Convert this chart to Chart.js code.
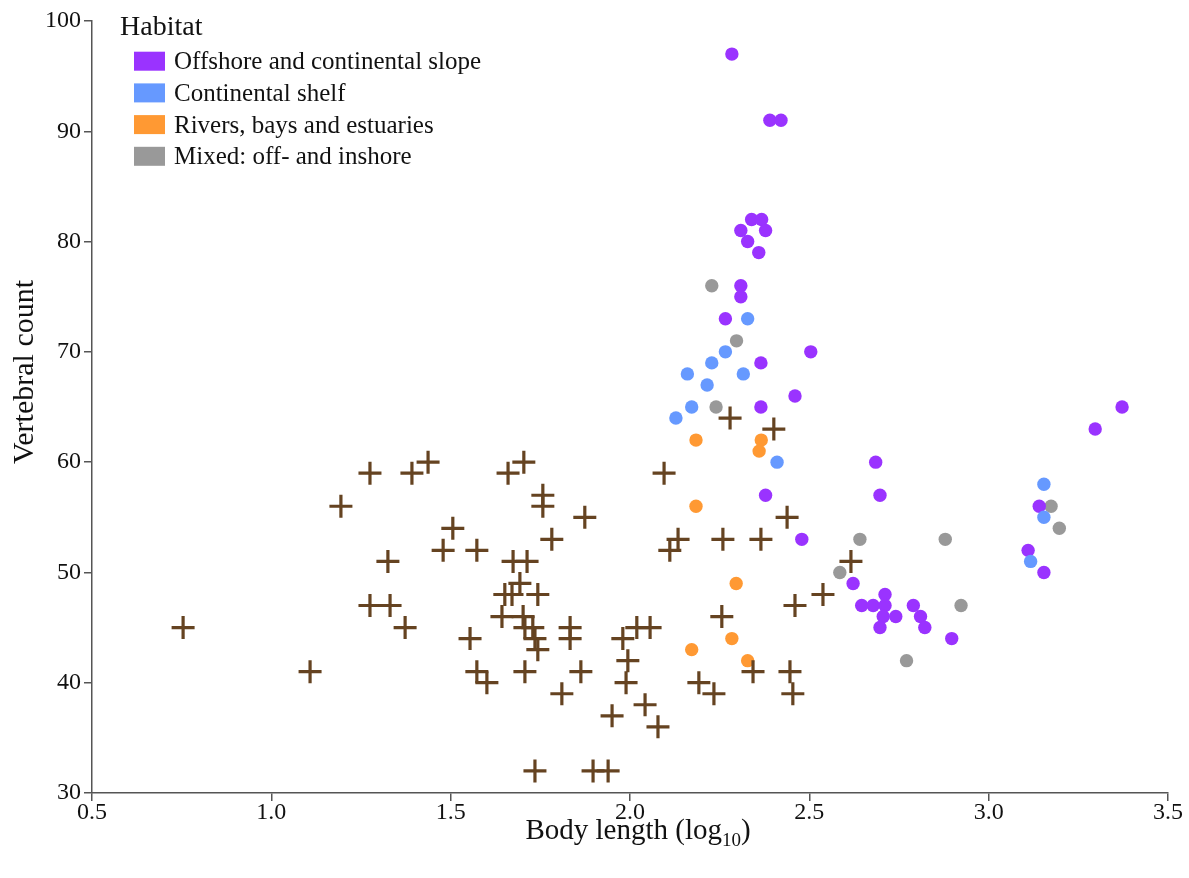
<!DOCTYPE html>
<html>
<head>
<meta charset="utf-8">
<script src="https://cdn.jsdelivr.net/npm/chart.js@4.4.1/dist/chart.umd.min.js"></script>
<style>
  html, body { margin: 0; padding: 0; background: #ffffff; }
  canvas { display: block; }
</style>
</head>
<body>
<canvas id="chart" width="1189" height="878"></canvas>
<script>
// Body length (log10) and vertebral count, by habitat
const offshoreLen = [2.284, 2.390, 2.421, 2.339, 2.367, 2.309, 2.378, 2.328, 2.359, 2.309, 2.309, 2.266,
  2.504, 2.365, 2.460, 2.365, 2.685, 2.378, 2.697, 2.479, 2.622, 2.711, 2.646, 2.678, 2.711, 2.790,
  2.741, 2.706, 2.810, 2.697, 2.822, 2.897, 3.372, 3.297, 3.141, 3.110, 3.154];
const offshoreVert = [97, 91, 91, 82, 82, 81, 81, 80, 79, 76, 75, 73,
  70, 69, 66, 65, 60, 57, 57, 53, 49, 48, 47, 47, 47, 47,
  46, 46, 46, 45, 45, 44, 65, 63, 56, 52, 50];

const shelfLen = [2.128, 2.172, 2.160, 2.215, 2.228, 2.266, 2.328, 2.316, 2.410, 3.154, 3.154, 3.117];
const shelfVert = [64, 65, 68, 67, 69, 70, 73, 68, 60, 58, 55, 51];

const riversLen = [2.184, 2.366, 2.360, 2.184, 2.296, 2.284, 2.172, 2.328];
const riversVert = [62, 62, 61, 56, 49, 44, 43, 42];

const mixedLen = [2.228, 2.297, 2.240, 2.641, 2.879, 2.585, 2.923, 2.771, 3.174, 3.197];
const mixedVert = [76, 71, 65, 53, 53, 50, 47, 42, 56, 54];

// Taxa without a habitat class (drawn as crosses)
const otherLen = [0.754, 1.108, 1.194, 1.275, 1.275, 1.331, 1.325, 1.373, 1.392, 1.437, 1.479, 1.506,
  1.554, 1.573, 1.573, 1.601, 1.643, 1.651, 1.660, 1.671, 1.674, 1.693, 1.702, 1.704, 1.707, 1.713,
  1.729, 1.735, 1.735, 1.743, 1.743, 1.757, 1.757, 1.782, 1.810, 1.833, 1.833, 1.707, 1.863, 1.874,
  1.897, 1.939, 1.950, 1.980, 1.989, 1.994, 2.019, 2.042, 2.056, 2.078, 2.095, 2.111, 2.134, 2.192,
  2.234, 2.256, 2.259, 2.279, 2.343, 2.365, 2.401, 2.438, 2.446, 2.454, 2.460, 2.538, 2.616];
const otherVert = [45, 41, 56, 59, 47, 47, 51, 45, 59, 60, 52, 54,
  44, 52, 41, 40, 46, 48, 59, 48, 51, 49, 46, 60, 45, 51,
  45, 44, 32, 48, 43, 57, 56, 53, 39, 45, 44, 41, 41, 55,
  32, 32, 37, 44, 40, 42, 45, 38, 45, 36, 59, 52, 53, 40,
  39, 46, 53, 64, 41, 53, 63, 55, 41, 39, 47, 48, 51];

const habitatNames = ['Offshore and continental slope', 'Continental shelf',
  'Rivers, bays and estuaries', 'Mixed: off- and inshore'];
const habitatColors = ['#9a33ff', '#6699ff', '#ff9933', '#999999'];
const crossColor = '#654321';

const xTicks = [0.5, 1.0, 1.5, 2.0, 2.5, 3.0, 3.5];
const yTicks = [30, 40, 50, 60, 70, 80, 90, 100];

const legendTitle = 'Habitat';
const yTitle = 'Vertebral count';
const xTitleParts = ['Body length (log', '10', ')'];

const SERIF = '"Liberation Serif", "Times New Roman", serif';
const INK = '#111111';
const AXIS = '#555555';

function pairs(xs, ys) {
  return xs.map((x, i) => ({ x: x, y: ys[i] }));
}

function dotSet(label, xs, ys, color, order) {
  return {
    label: label,
    data: pairs(xs, ys),
    backgroundColor: color,
    borderColor: color,
    borderWidth: 0,
    pointRadius: 6.7,
    pointHoverRadius: 6.7,
    pointStyle: 'circle',
    order: order
  };
}

const datasets = [
  {
    label: 'Other taxa',
    data: pairs(otherLen, otherVert),
    pointStyle: 'cross',
    pointRadius: 11.5,
    pointHoverRadius: 11.5,
    borderColor: crossColor,
    backgroundColor: crossColor,
    borderWidth: 3.2,
    order: 0
  },
  dotSet(habitatNames[2], riversLen, riversVert, habitatColors[2], 1),
  dotSet(habitatNames[1], shelfLen, shelfVert, habitatColors[1], 2),
  dotSet(habitatNames[0], offshoreLen, offshoreVert, habitatColors[0], 3),
  dotSet(habitatNames[3], mixedLen, mixedVert, habitatColors[3], 4)
];

// Legend box with title, and both axis titles (x title carries a subscript)
const annotations = {
  id: 'annotations',
  afterDraw(chart) {
    const ctx = chart.ctx;
    ctx.save();
    ctx.fillStyle = INK;
    ctx.textBaseline = 'alphabetic';
    ctx.textAlign = 'left';

    ctx.font = '28px ' + SERIF;
    ctx.fillText(legendTitle, 120, 35);

    ctx.font = '25px ' + SERIF;
    habitatNames.forEach((name, i) => {
      const top = 51.7 + i * 31.7;
      ctx.fillStyle = habitatColors[i];
      ctx.fillRect(134, top, 31, 19);
      ctx.fillStyle = INK;
      ctx.fillText(name, 174, top + 17.5);
    });

    // y title, rotated
    ctx.save();
    ctx.font = '30px ' + SERIF;
    ctx.translate(33, 372);
    ctx.rotate(-Math.PI / 2);
    ctx.textAlign = 'center';
    ctx.fillText(yTitle, 0, 0);
    ctx.restore();

    // x title with subscript
    const mainFont = '29px ' + SERIF;
    const subFont = '19px ' + SERIF;
    ctx.font = mainFont;
    const w0 = ctx.measureText(xTitleParts[0]).width;
    const w2 = ctx.measureText(xTitleParts[2]).width;
    ctx.font = subFont;
    const w1 = ctx.measureText(xTitleParts[1]).width;
    const total = w0 + w1 + w2;
    const cx = 638;
    const base = 839;
    let x = cx - total / 2;
    ctx.font = mainFont;
    ctx.fillText(xTitleParts[0], x, base);
    x += w0;
    ctx.font = subFont;
    ctx.fillText(xTitleParts[1], x, base + 7);
    x += w1;
    ctx.font = mainFont;
    ctx.fillText(xTitleParts[2], x, base);
    ctx.restore();
  }
};

const axisCommon = {
  type: 'linear',
  grid: {
    display: true,
    drawOnChartArea: false,
    drawTicks: true,
    tickLength: 8,
    color: AXIS,
    lineWidth: 1.5
  },
  border: { display: true, color: AXIS, width: 1.5 },
  title: { display: false }
};

new Chart(document.getElementById('chart'), {
  type: 'scatter',
  data: { datasets: datasets },
  plugins: [annotations],
  options: {
    responsive: false,
    animation: false,
    devicePixelRatio: 1,
    layout: { padding: { top: 21, right: 21, left: 0, bottom: 0 } },
    plugins: {
      legend: { display: false },
      tooltip: { enabled: false }
    },
    scales: {
      x: Object.assign({}, axisCommon, {
        min: xTicks[0],
        max: xTicks[xTicks.length - 1],
        afterBuildTicks: (s) => { s.ticks = xTicks.map(v => ({ value: v })); },
        afterFit: (s) => { s.height = 85; },
        ticks: {
          color: INK,
          font: { family: SERIF, size: 24 },
          padding: -3,
          maxRotation: 0,
          autoSkip: false,
          callback: (v) => Number(v).toFixed(1)
        }
      }),
      y: Object.assign({}, axisCommon, {
        min: yTicks[0],
        max: yTicks[yTicks.length - 1],
        afterBuildTicks: (s) => { s.ticks = yTicks.map(v => ({ value: v })); },
        afterFit: (s) => { s.width = 92; },
        ticks: {
          color: INK,
          font: { family: SERIF, size: 24 },
          padding: 3,
          autoSkip: false,
          callback: (v) => String(v)
        }
      })
    }
  }
});
</script>
</body>
</html>
